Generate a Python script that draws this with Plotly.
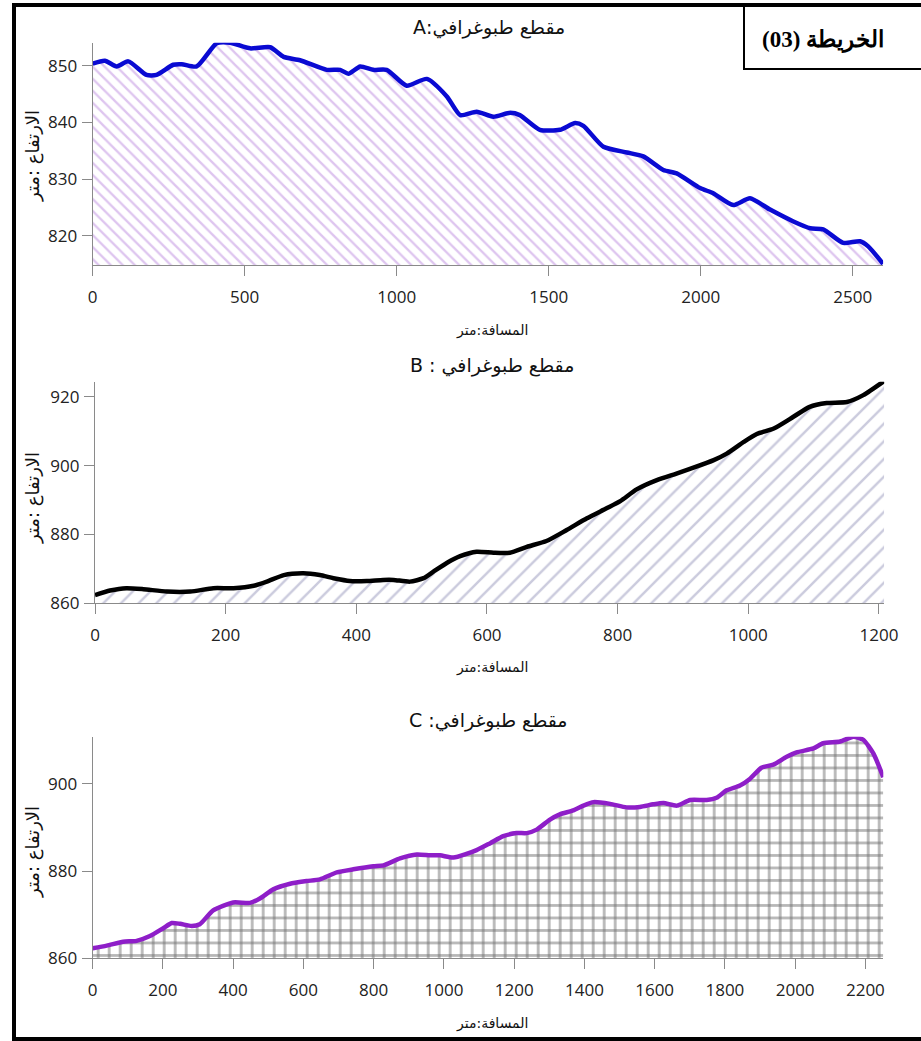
import plotly.graph_objects as go

W, H = 921, 1041

# ---- Data ----
A_dist = [0, 40, 79, 117, 177, 210, 265, 293, 342, 408, 452, 518, 584, 628, 682, 770, 814, 841, 880, 923,
          967, 1033, 1099, 1165, 1209, 1263, 1318, 1373, 1405, 1471, 1537, 1587, 1614, 1680, 1757, 1811,
          1877, 1921, 1998, 2041, 2107, 2162, 2228, 2305, 2360, 2403, 2469, 2524, 2551, 2600]
A_elev = [850.4, 850.9, 849.9, 850.8, 848.4, 848.4, 850.2, 850.3, 849.9, 854.0, 854.1, 853.1, 853.3, 851.6,
          851.0, 849.3, 849.3, 848.6, 849.9, 849.3, 849.3, 846.5, 847.7, 844.6, 841.3, 841.9, 841.0, 841.7,
          841.3, 838.7, 838.7, 839.9, 839.4, 835.7, 834.7, 834.0, 831.6, 831.0, 828.4, 827.5, 825.4, 826.6,
          824.6, 822.5, 821.3, 821.1, 818.7, 819.0, 818.1, 815.0]

B_dist = [0, 23, 48, 74, 110, 146, 181, 212, 243, 263, 289, 319, 344, 365, 390, 416, 441, 457, 482, 503,
          518, 539, 559, 584, 610, 635, 661, 691, 722, 753, 783, 804, 829, 860, 890, 916, 947, 967, 993,
          1013, 1039, 1069, 1094, 1120, 1151, 1176, 1208]
B_elev = [862.4, 863.7, 864.4, 864.1, 863.4, 863.4, 864.4, 864.4, 865.1, 866.3, 868.2, 868.7, 868.2, 867.3,
          866.5, 866.5, 866.8, 866.8, 866.3, 867.3, 869.2, 871.8, 873.7, 875.0, 874.7, 874.7, 876.4, 878.1,
          881.3, 884.7, 887.6, 889.7, 893.1, 895.8, 897.7, 899.4, 901.6, 903.5, 906.9, 909.2, 910.8, 914.2,
          917.1, 918.2, 918.5, 920.5, 924.6]

C_dist = [0, 40, 87, 125, 163, 201, 225, 249, 282, 305, 343, 400, 448, 476, 514, 562, 609, 647, 695, 742,
          799, 828, 875, 923, 961, 989, 1027, 1093, 1132, 1169, 1207, 1236, 1264, 1302, 1330, 1368, 1397,
          1426, 1473, 1520, 1558, 1596, 1625, 1663, 1701, 1748, 1776, 1805, 1843, 1871, 1904, 1938, 1976,
          2004, 2052, 2080, 2128, 2166, 2194, 2223, 2251]
C_elev = [862.3, 862.9, 863.8, 864.0, 865.1, 866.9, 868.1, 867.9, 867.4, 867.8, 871.0, 872.8, 872.7, 873.7,
          875.8, 877.1, 877.7, 878.1, 879.7, 880.4, 881.1, 881.3, 882.9, 883.8, 883.6, 883.6, 883.1, 884.8,
          886.4, 888.0, 888.7, 888.7, 889.5, 891.8, 893.0, 893.9, 895.0, 895.8, 895.4, 894.6, 894.7, 895.3,
          895.6, 895.0, 896.3, 896.3, 896.8, 898.5, 899.6, 901.1, 903.7, 904.4, 906.2, 907.2, 908.1, 909.3,
          909.7, 910.8, 910.1, 906.9, 901.5]

A_xticks = [0, 500, 1000, 1500, 2000, 2500]
A_yticks = [820, 830, 840, 850]
B_xticks = [0, 200, 400, 600, 800, 1000, 1200]
B_yticks = [860, 880, 900, 920]
C_xticks = [0, 200, 400, 600, 800, 1000, 1200, 1400, 1600, 1800, 2000, 2200]
C_yticks = [860, 880, 900]

titles = ["مقطع طبوغرافي:A", "مقطع طبوغرافي : B", "مقطع طبوغرافي: C"]
x_title = "المسافة:متر"
y_title = "الارتفاع :متر"
map_label = "الخريطة (03)"

RLE, PDF = "\u202B", "\u202C"


def rtl(s):
    return RLE + s + PDF


def px(x):
    return x / W


def py(y):
    return 1 - y / H


fig = go.Figure()

# Chart A
fig.add_trace(go.Scatter(x=A_dist, y=A_elev, mode="lines",
                         line=dict(color="#0a0ad2", width=4.5, shape="spline", smoothing=0.6),
                         fill="tozeroy", fillcolor="rgba(255,255,255,0)",
                         fillpattern=dict(shape="\\", fgcolor="#bd8ce0", size=8.5, solidity=0.28),
                         xaxis="x", yaxis="y", showlegend=False))
# Chart B
fig.add_trace(go.Scatter(x=B_dist, y=B_elev, mode="lines",
                         line=dict(color="#000000", width=4.5, shape="spline", smoothing=0.6),
                         fill="tozeroy", fillcolor="rgba(255,255,255,0)",
                         fillpattern=dict(shape="/", fgcolor="#9898bc", size=12.5, solidity=0.2),
                         xaxis="x2", yaxis="y2", showlegend=False))
# Chart C grid (vertical + horizontal lines)
fig.add_trace(go.Scatter(x=C_dist, y=C_elev, mode="none",
                         fill="tozeroy", fillcolor="rgba(255,255,255,0)",
                         fillpattern=dict(shape="|", fgcolor="#707070", size=11, solidity=0.25),
                         xaxis="x3", yaxis="y3", showlegend=False, line=dict(shape="spline", smoothing=0.6)))
fig.add_trace(go.Scatter(x=C_dist, y=C_elev, mode="none",
                         fill="tozeroy", fillcolor="rgba(255,255,255,0)",
                         fillpattern=dict(shape="-", fgcolor="#707070", size=12.5, solidity=0.22),
                         xaxis="x3", yaxis="y3", showlegend=False, line=dict(shape="spline", smoothing=0.6)))
fig.add_trace(go.Scatter(x=C_dist, y=C_elev, mode="lines",
                         line=dict(color="#8e1ec8", width=4.5, shape="spline", smoothing=0.6),
                         xaxis="x3", yaxis="y3", showlegend=False))

tickfont = dict(family="Open Sans, Noto Sans, sans-serif", size=17, color="#222")
common_x = dict(showgrid=False, zeroline=False, showline=True, linecolor="#8a8a8a", linewidth=1.2,
                ticks="outside", ticklen=10, tickcolor="#8a8a8a", tickfont=tickfont, ticklabelstandoff=6,
                automargin=False)
common_y = dict(showgrid=False, zeroline=False, showline=True, linecolor="#8a8a8a", linewidth=1.2,
                ticks="outside", ticklen=10, tickcolor="#8a8a8a", tickfont=tickfont, ticklabelstandoff=1,
                automargin=False)

fig.update_layout(
    width=W, height=H, margin=dict(l=0, r=0, t=0, b=0, pad=0, autoexpand=False),
    paper_bgcolor="white", plot_bgcolor="white",
    xaxis=dict(common_x, domain=[px(92.7), px(883.1)], range=[0, 2600], tickvals=A_xticks, anchor="y"),
    yaxis=dict(common_y, domain=[py(265), py(42.7)], range=[814.8, 854.1], tickvals=A_yticks, anchor="x"),
    xaxis2=dict(common_x, domain=[px(95), px(884.2)], range=[0, 1208], tickvals=B_xticks, anchor="y2"),
    yaxis2=dict(common_y, domain=[py(603.3), py(381.7)], range=[860, 924.4], tickvals=B_yticks, anchor="x2"),
    xaxis3=dict(common_x, domain=[px(92.7), px(883.3)], range=[0, 2251], tickvals=C_xticks, anchor="y3"),
    yaxis3=dict(common_y, domain=[py(958.3), py(736.7)], range=[860, 910.8], tickvals=C_yticks, anchor="x3"),
)

arfont = dict(family="DejaVu Sans, Noto Sans, sans-serif", color="#111")
annotations = []
for t, (cx, cy) in zip(titles, [(489, 27), (492, 365), (488, 720)]):
    annotations.append(dict(text=rtl(t), x=px(cx), y=py(cy), xref="paper", yref="paper", showarrow=False,
                            xanchor="center", yanchor="middle", font=dict(arfont, size=19)))
for cy in [331, 667, 1023]:
    annotations.append(dict(text=rtl(x_title), x=px(492), y=py(cy), xref="paper", yref="paper", showarrow=False,
                            xanchor="center", yanchor="middle", font=dict(arfont, size=14)))
for cy in [156, 498, 852]:
    annotations.append(dict(text=rtl(y_title), x=px(33), y=py(cy), xref="paper", yref="paper", showarrow=False,
                            textangle=-90, xanchor="center", yanchor="middle", font=dict(arfont, size=18)))
annotations.append(dict(text="<b>" + rtl(map_label) + "</b>", x=px(823), y=py(40), xref="paper", yref="paper",
                        showarrow=False, xanchor="center", yanchor="middle",
                        font=dict(family="Liberation Serif, DejaVu Serif, serif", size=23, color="#000")))
fig.update_layout(annotations=annotations)

shapes = [
    dict(type="rect", xref="paper", yref="paper", x0=px(14), x1=px(925), y0=py(1039), y1=py(5),
         line=dict(color="black", width=4), fillcolor="rgba(0,0,0,0)"),
    dict(type="rect", xref="paper", yref="paper", x0=px(744), x1=px(925), y0=py(69), y1=py(5),
         line=dict(color="black", width=2), fillcolor="rgba(0,0,0,0)"),
]
fig.update_layout(shapes=shapes)

fig.write_html("out.html", config={"displayModeBar": False},
               post_script="document.body.style.margin='0';document.body.style.overflow='hidden';")
